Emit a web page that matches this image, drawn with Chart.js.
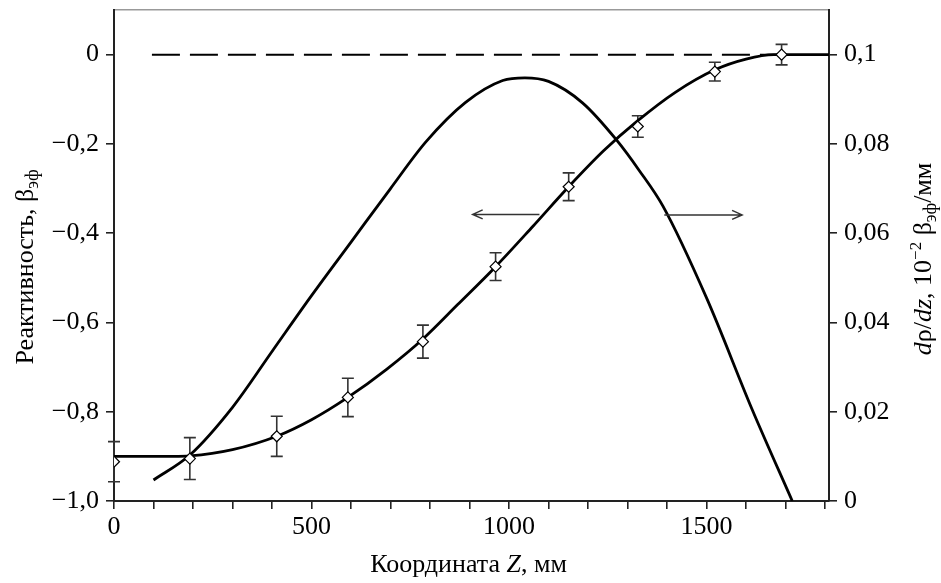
<!DOCTYPE html>
<html><head><meta charset="utf-8">
<script src="https://cdn.jsdelivr.net/npm/chart.js@4/dist/chart.umd.min.js"></script>
<style>html,body{margin:0;padding:0;background:#fff}</style>
</head><body>
<canvas id="c" width="941" height="583"></canvas>
<script>
// ---- data ----
const reactZ   = [0, 150, 192, 300, 412, 500, 592, 690, 782, 870, 966, 1060, 1151, 1240, 1326, 1420, 1521, 1600, 1670, 1810];
const reactVal = [-0.90, -0.90, -0.899, -0.885, -0.855, -0.818, -0.768, -0.705, -0.637, -0.560, -0.475, -0.385, -0.296, -0.215, -0.148, -0.085, -0.034, -0.010, 0.0, 0.0];

const derivZ   = [100, 192, 300, 400, 500, 600, 700, 790, 890, 984, 1040, 1100, 1186, 1271, 1330, 1390, 1500, 1616, 1717];
const derivVal = [0.0047, 0.0103, 0.021, 0.0335, 0.046, 0.058, 0.070, 0.0805, 0.0893, 0.0942, 0.0948, 0.094, 0.0892, 0.081, 0.074, 0.066, 0.0455, 0.0204, 0.0];

const measZ   = [0, 192, 412, 592, 782, 966, 1151, 1326, 1521, 1690];
const measVal = [-0.912, -0.905, -0.855, -0.768, -0.643, -0.475, -0.296, -0.161, -0.038, 0.0];
const measErr = [0.045, 0.047, 0.045, 0.043, 0.037, 0.031, 0.031, 0.024, 0.021, 0.023];

const zeroLineZ = [96, 1690];
const zeroLineVal = [0, 0];

const arrowLeftZ = [1077, 908];   const arrowLeftY = -0.358;   // on left axis
const arrowRightZ = [1393, 1590]; const arrowRightY = 0.0641;  // on right axis

const xTicks = [0,100,200,300,400,500,600,700,800,900,1000,1100,1200,1300,1400,1500,1600,1700,1800];
const xTickLabels = {0:'0', 500:'500', 1000:'1000', 1500:'1500'};
const leftTicks = [-1.0, -0.8, -0.6, -0.4, -0.2, 0];
const leftTickLabels = ['\u22121,0', '\u22120,8', '\u22120,6', '\u22120,4', '\u22120,2', '0'];
const rightTicks = [0, 0.02, 0.04, 0.06, 0.08, 0.1];
const rightTickLabels = ['0', '0,02', '0,04', '0,06', '0,08', '0,1'];

// ---- styles ----
const FONT = 'Liberation Serif, Times New Roman, serif';
const tickFont = {family: FONT, size: 26};
const AX = '#222';

const pts = (xs, ys) => xs.map((x, i) => ({x: x, y: ys[i]}));

function drawRich(ctx, segs, x, y, rot) {
  ctx.save();
  ctx.translate(x, y);
  ctx.rotate(rot);
  ctx.fillStyle = '#000';
  ctx.textBaseline = 'alphabetic';
  ctx.textAlign = 'left';
  let total = 0;
  const widths = segs.map(s => {
    ctx.font = (s.it ? 'italic ' : '') + (s.size || 26) + 'px ' + FONT;
    const w = ctx.measureText(s.t).width;
    total += w;
    return w;
  });
  let cx = -total / 2;
  segs.forEach((s, i) => {
    ctx.font = (s.it ? 'italic ' : '') + (s.size || 26) + 'px ' + FONT;
    ctx.fillText(s.t, cx, s.dy || 0);
    cx += widths[i];
  });
  ctx.restore();
}

function arrow(ctx, x1, y, x2) {
  ctx.save();
  ctx.strokeStyle = '#333';
  ctx.lineWidth = 1.5;
  ctx.beginPath();
  ctx.moveTo(x1, y); ctx.lineTo(x2, y);
  const d = x2 > x1 ? -1 : 1;
  ctx.moveTo(x2 + d * 10, y - 4.5); ctx.lineTo(x2, y); ctx.lineTo(x2 + d * 10, y + 4.5);
  ctx.stroke();
  ctx.restore();
}

const decor = {
  id: 'decor',
  beforeDatasetsDraw(chart) {
    const ctx = chart.ctx, xs = chart.scales.x, yl = chart.scales.yL;
    ctx.save();
    ctx.strokeStyle = '#333';
    ctx.lineWidth = 1.6;
    measZ.forEach((z, i) => {
      const px = xs.getPixelForValue(z);
      const top = yl.getPixelForValue(measVal[i] + measErr[i]);
      const bot = yl.getPixelForValue(measVal[i] - measErr[i]);
      ctx.beginPath();
      ctx.moveTo(px, top); ctx.lineTo(px, bot);
      ctx.moveTo(px - 6, top); ctx.lineTo(px + 6, top);
      ctx.moveTo(px - 6, bot); ctx.lineTo(px + 6, bot);
      ctx.stroke();
    });
    ctx.restore();
  },
  afterDraw(chart) {
    const ctx = chart.ctx, xs = chart.scales.x, yl = chart.scales.yL, yr = chart.scales.yR;
    const ca = chart.chartArea;
    arrow(ctx, xs.getPixelForValue(arrowLeftZ[0]), yl.getPixelForValue(arrowLeftY), xs.getPixelForValue(arrowLeftZ[1]));
    arrow(ctx, xs.getPixelForValue(arrowRightZ[0]), yr.getPixelForValue(arrowRightY), xs.getPixelForValue(arrowRightZ[1]));
    // axis titles
    drawRich(ctx, [{t:'Координата '}, {t:'Z', it:true}, {t:', мм'}], (ca.left + ca.right) / 2 - 3, 572, 0);
    drawRich(ctx, [{t:'Реактивность, β'}, {t:'эф', size:18, dy:5}], 33, 267, -Math.PI / 2);
    drawRich(ctx, [{t:'d', it:true}, {t:'ρ/'}, {t:'dz', it:true}, {t:', 10'}, {t:'\u22122', size:17, dy:-10}, {t:' β'}, {t:'эф', size:18, dy:5}, {t:'/мм'}], 931, 259, -Math.PI / 2);
  }
};

const gridOpts = {drawOnChartArea: false, drawTicks: true, tickLength: 8, color: AX, lineWidth: 1.6};
const fitY = w => s => { s.width = w; s.paddingTop = 0; s.paddingBottom = 0; };

new Chart(document.getElementById('c'), {
  type: 'line',
  data: {
    datasets: [
      {
        data: pts(measZ, measVal), yAxisID: 'yL', showLine: false,
        pointStyle: 'rectRot', pointRadius: 5.5, pointBackgroundColor: '#fff',
        pointBorderColor: '#000', pointBorderWidth: 1.2
      },
      {
        data: pts(reactZ, reactVal), yAxisID: 'yL', borderColor: '#000', borderWidth: 2.8,
        pointRadius: 0, cubicInterpolationMode: 'monotone', fill: false
      },
      {
        data: pts(derivZ, derivVal), yAxisID: 'yR', borderColor: '#000', borderWidth: 2.8,
        pointRadius: 0, cubicInterpolationMode: 'monotone', fill: false
      },
      {
        data: pts(zeroLineZ, zeroLineVal), yAxisID: 'yL', borderColor: '#000', borderWidth: 2,
        borderDash: [28, 10], pointRadius: 0, fill: false
      }
    ]
  },
  options: {
    responsive: false, animation: false, devicePixelRatio: 1,
    layout: {padding: 0},
    plugins: {legend: {display: false}, tooltip: {enabled: false}},
    scales: {
      x: {
        type: 'linear', position: 'bottom', min: 0, max: 1810,
        afterBuildTicks: s => { s.ticks = xTicks.map(v => ({value: v})); },
        afterFit: s => { s.height = 82; s.paddingLeft = 0; s.paddingRight = 0; },
        ticks: {autoSkip: false, maxRotation: 0, padding: 3, color: '#000', font: tickFont,
                callback: v => (xTickLabels[v] !== undefined ? xTickLabels[v] : '')},
        grid: gridOpts,
        border: {color: AX, width: 2}
      },
      xTop: {
        type: 'linear', position: 'top', min: 0, max: 1810,
        afterFit: s => { s.height = 10; s.paddingLeft = 0; s.paddingRight = 0; },
        ticks: {display: false},
        grid: {display: false, drawTicks: false},
        border: {display: true, color: '#999', width: 1.5}
      },
      yL: {
        type: 'linear', position: 'left', min: -1.0, max: 0.1,
        afterBuildTicks: s => { s.ticks = leftTicks.map(v => ({value: v})); },
        afterFit: fitY(114),
        ticks: {padding: 7, color: '#000', font: tickFont, callback: (v, i) => leftTickLabels[i]},
        grid: gridOpts,
        border: {color: AX, width: 2}
      },
      yR: {
        type: 'linear', position: 'right', min: 0, max: 0.11,
        afterBuildTicks: s => { s.ticks = rightTicks.map(v => ({value: v})); },
        afterFit: fitY(112),
        ticks: {padding: 7, color: '#000', font: tickFont, callback: (v, i) => rightTickLabels[i]},
        grid: gridOpts,
        border: {color: AX, width: 2}
      }
    }
  },
  plugins: [decor]
});
</script>
</body></html>
